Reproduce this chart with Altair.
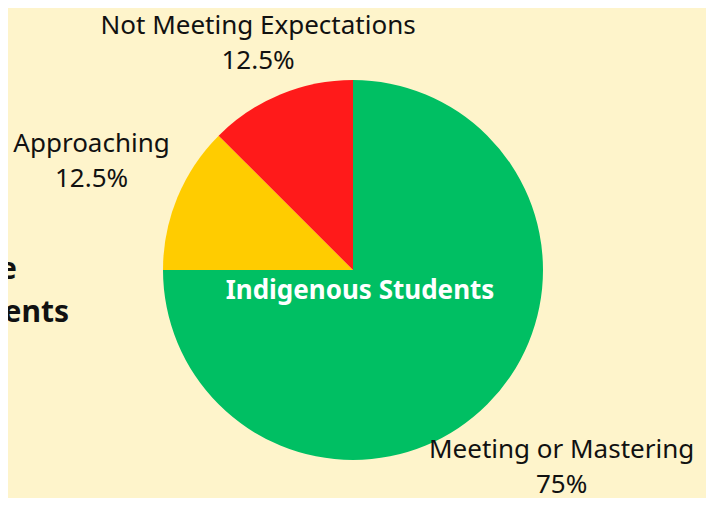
import altair as alt
import pandas as pd

categories = ["Meeting or Mastering", "Approaching", "Not Meeting Expectations"]
values = [75, 12.5, 12.5]
colors = ["#00BF63", "#FFCC00", "#FF1A1A"]
title_text = "Indigenous Students"
side_lines = ["Provincial Average", "All Students"]

df = pd.DataFrame({"category": categories, "value": values, "order": list(range(len(categories)))})
total = float(sum(values))

BG = "#FEF4CB"
FONT = "Noto Sans"
CX, CY, R = 345, 262, 190
LH = 35

base = alt.Chart(df)

pie = base.mark_arc(radius=R, x=CX, y=CY).encode(
    theta=alt.Theta("value:Q", stack=True, scale=alt.Scale(domain=[0, total])),
    color=alt.Color("category:N", scale=alt.Scale(domain=categories, range=colors), legend=None),
    order=alt.Order("order:Q"),
)

label_radius = {"Not Meeting Expectations": 248, "Approaching": 283, "Meeting or Mastering": 295}
label_dy = {"Not Meeting Expectations": -LH / 2 + 3, "Approaching": -LH / 2, "Meeting or Mastering": -LH / 2 - 11}
labels = []
for cat in categories:
    lay = (
        base.transform_stack(stack="value", groupby=[], as_=["t0", "t1"], sort=[alt.SortField("order")])
        .transform_calculate(mid="(datum.t0 + datum.t1) / 2",
                             label="datum.category + '\\n' + format(datum.value, '') + '%'")
        .transform_filter(alt.datum.category == cat)
        .mark_text(radius=label_radius[cat], x=CX, y=CY, dy=label_dy[cat], align="center",
                   baseline="middle", lineBreak="\n", fontSize=26, lineHeight=LH, font=FONT,
                   color="#111111")
        .encode(theta=alt.Theta("mid:Q", scale=alt.Scale(domain=[0, total])), text="label:N")
    )
    labels.append(lay)

center_title = alt.Chart(pd.DataFrame({"t": [title_text]})).mark_text(
    x=352, y=283, align="center", baseline="middle", fontSize=26, fontWeight="bold",
    font=FONT, color="white"
).encode(text="t:N")

side1 = alt.Chart(pd.DataFrame({"t": [side_lines[0]]})).mark_text(
    x=9, y=262, align="right", baseline="middle", fontSize=30, fontWeight="bold",
    font=FONT, color="#111111"
).encode(text="t:N")
side2 = alt.Chart(pd.DataFrame({"t": [side_lines[1]]})).mark_text(
    x=61, y=305, align="right", baseline="middle", fontSize=30, fontWeight="bold",
    font=FONT, color="#111111"
).encode(text="t:N")

chart = alt.layer(pie, *labels, center_title, side1, side2).properties(
    width=698, height=490,
    autosize=alt.AutoSizeParams(type="none"),
    padding=0,
    background=BG,
).configure_view(stroke=None)

chart.save("out.html", embed_options={"renderer": "svg", "actions": False})
